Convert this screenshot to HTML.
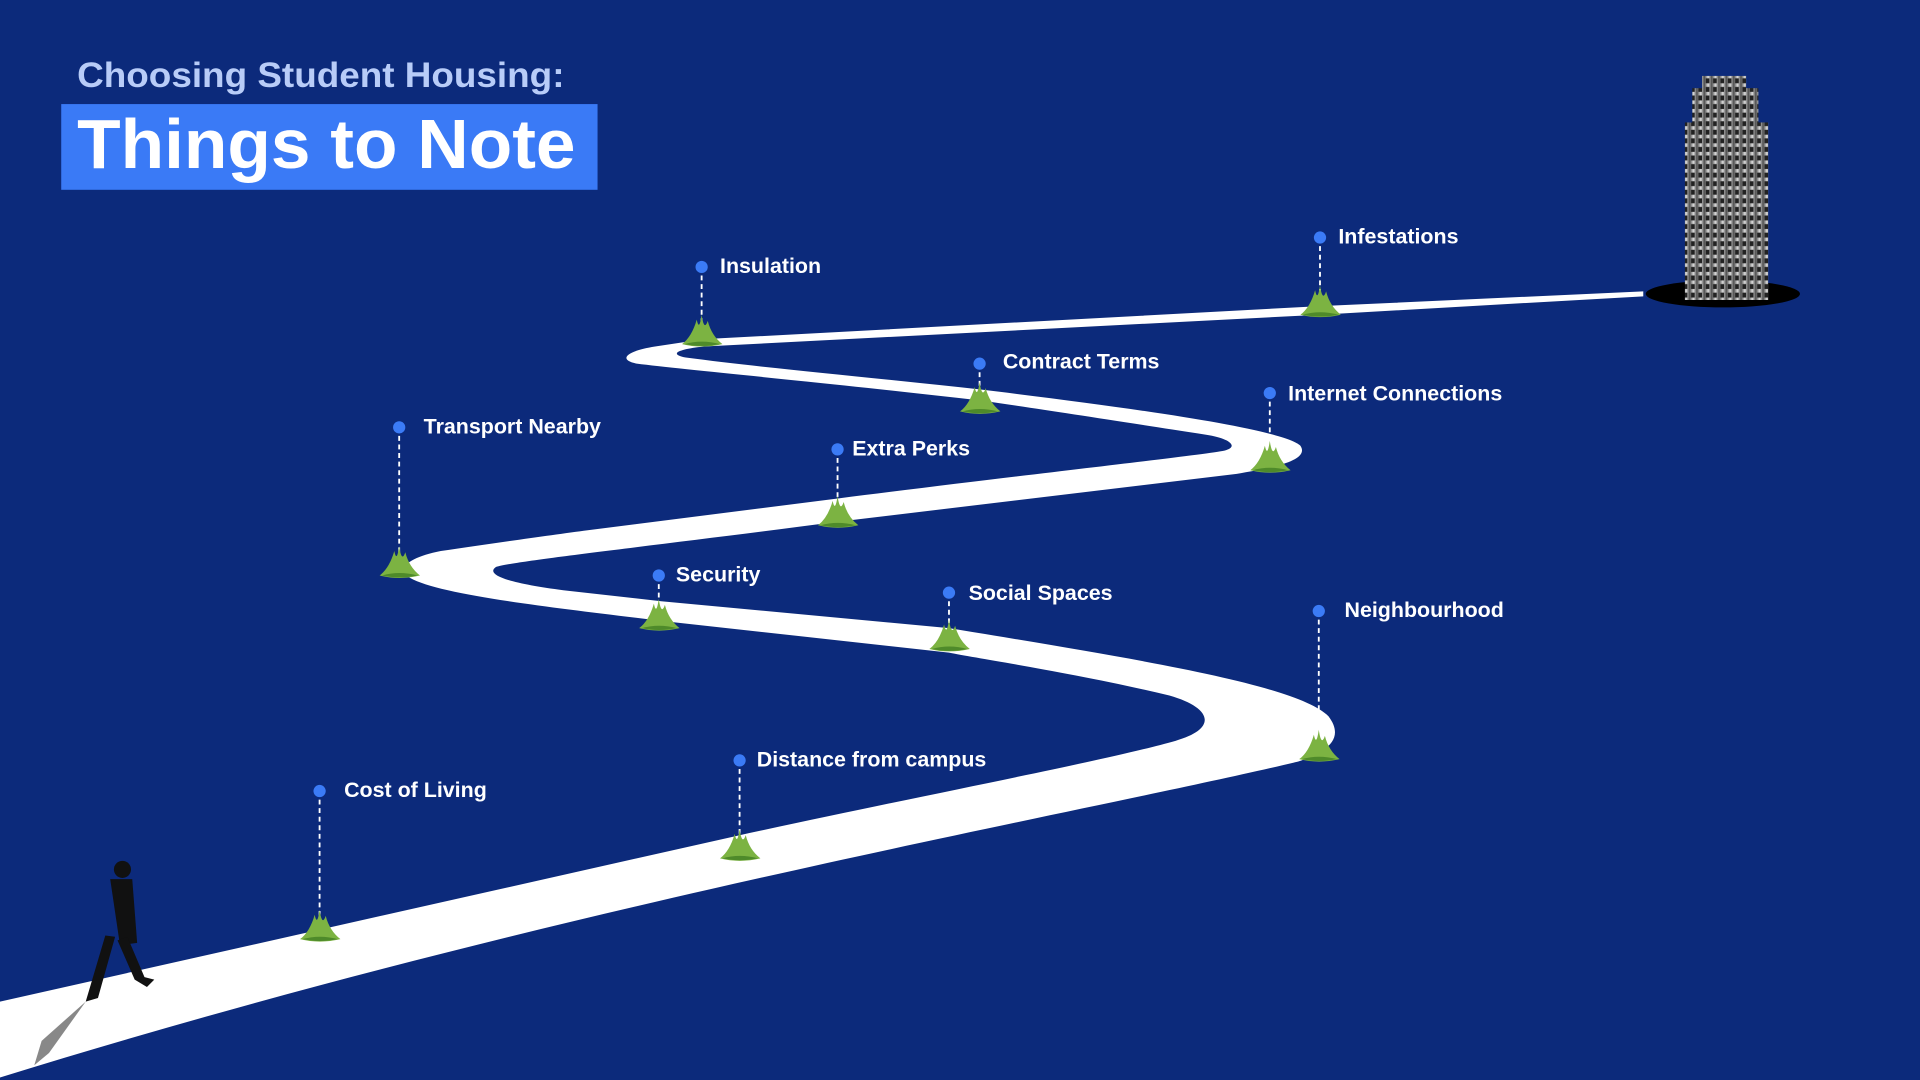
<!DOCTYPE html>
<html><head><meta charset="utf-8"><style>
html,body{margin:0;padding:0;background:#0c2a7b;}
svg{display:block;}
text{font-family:"Liberation Sans",sans-serif;font-weight:bold;}
</style></head><body>
<svg width="1920" height="1080" viewBox="0 0 1568 882" xmlns="http://www.w3.org/2000/svg">
<defs>
<g id="grass"><path d="M-16,4 Q-8,-2 -4,-16 Q-2,-6 0,-20 Q2,-6 5,-15 Q8,-3 17,4 Q0,8 -16,4Z" fill="#7cb342"/><path d="M-14,4 Q0,0 15,4 Q0,7 -14,4Z" fill="#4e8a2a"/></g>
<linearGradient id="bld" x1="0" x2="1"><stop offset="0" stop-color="#555"/><stop offset="0.5" stop-color="#ddd"/><stop offset="1" stop-color="#444"/></linearGradient>
<pattern id="win" width="6" height="7" patternUnits="userSpaceOnUse"><rect width="6" height="7" fill="url(#bld)"/><rect x="1" y="1" width="3" height="4" fill="#222"/></pattern>
</defs>
<rect width="1568" height="882" fill="#0c2a7b"/>
<!-- road -->
<path fill="#ffffff" d="M0,818 L600,683 C760,648 900,622 960,605 C995,595 990,578 955,568 C880,550 800,538 775,533 L540,507 C450,496 360,486 335,472 C322,464 335,455 360,450 C400,444 450,437 480,433 L685,407 C850,386 980,372 1000,368 C1012,365 1005,358 985,355 C900,342 850,334 800,327 C680,313 560,302 520,297 C505,294 510,287 535,283 L575,277 L1078,250 L1342,238 L1342,242 L1078,257 L575,283 C555,285 545,289 560,292 C620,300 700,307 800,318 C950,336 1050,352 1062,364 C1070,376 1040,382 1010,387 L685,426 C540,445 420,458 405,463 C395,470 420,477 460,482 L540,491 L775,513 C940,540 1060,560 1085,585 C1100,605 1080,615 1060,622 C880,665 450,740 0,880 Z"/>
<!-- building -->
<ellipse cx="1407" cy="240" rx="63" ry="11" fill="#000"/>
<rect x="1376" y="100" width="68" height="145" fill="url(#win)"/>
<rect x="1382" y="72" width="54" height="30" fill="url(#win)"/>
<rect x="1390" y="62" width="36" height="12" fill="url(#win)"/>
<!-- person -->
<g fill="#111">
<circle cx="100" cy="710" r="7"/>
<path d="M90,718 L108,718 L112,770 L98,772 Z"/>
<path d="M94,765 L80,815 L70,818 L86,764Z"/>
<path d="M104,765 L118,798 L126,800 L120,806 L110,800 L96,768Z"/>
<path d="M70,818 L40,860 L28,870 L34,850Z" opacity="0.5"/>
</g>
<!-- markers -->
<g stroke="#fff" stroke-width="1.5" stroke-dasharray="4,3">
<line x1="261" y1="646" x2="261" y2="756"/>
<line x1="604" y1="621" x2="604" y2="690"/>
<line x1="1077" y1="499" x2="1077" y2="608"/>
<line x1="775" y1="484" x2="775" y2="518"/>
<line x1="538" y1="470" x2="538" y2="502"/>
<line x1="326" y1="349" x2="326" y2="458"/>
<line x1="684" y1="367" x2="684" y2="416"/>
<line x1="1037" y1="321" x2="1037" y2="372"/>
<line x1="800" y1="297" x2="800" y2="326"/>
<line x1="573" y1="218" x2="573" y2="270"/>
<line x1="1078" y1="194" x2="1078" y2="246"/>
</g>
<g fill="#3b7bf6">
<circle cx="261" cy="646" r="5"/><circle cx="604" cy="621" r="5"/><circle cx="1077" cy="499" r="5"/>
<circle cx="775" cy="484" r="5"/><circle cx="538" cy="470" r="5"/><circle cx="326" cy="349" r="5"/>
<circle cx="684" cy="367" r="5"/><circle cx="1037" cy="321" r="5"/><circle cx="800" cy="297" r="5"/>
<circle cx="573" cy="218" r="5"/><circle cx="1078" cy="194" r="5"/>
</g>
<use href="#grass" x="261" y="763"/><use href="#grass" x="604" y="697"/><use href="#grass" x="1077" y="616"/>
<use href="#grass" x="775" y="526"/><use href="#grass" x="538" y="509"/><use href="#grass" x="326" y="466"/>
<use href="#grass" x="684" y="425"/><use href="#grass" x="1037" y="380"/><use href="#grass" x="800" y="332"/>
<use href="#grass" x="573" y="277"/><use href="#grass" x="1078" y="253"/>
<g fill="#fff" font-size="17.5">
<text x="281" y="651">Cost of Living</text>
<text x="618" y="626">Distance from campus</text>
<text x="1098" y="504">Neighbourhood</text>
<text x="791" y="490">Social Spaces</text>
<text x="552" y="475">Security</text>
<text x="346" y="354">Transport Nearby</text>
<text x="696" y="372">Extra Perks</text>
<text x="1052" y="327">Internet Connections</text>
<text x="819" y="301">Contract Terms</text>
<text x="588" y="223">Insulation</text>
<text x="1093" y="199">Infestations</text>
</g>
<!-- title -->
<text x="63" y="71" font-size="29" fill="#b8ccf8" textLength="398" lengthAdjust="spacingAndGlyphs">Choosing Student Housing:</text>
<rect x="50" y="85" width="438" height="70" fill="#3a7af6"/>
<text x="63" y="137" font-size="57" fill="#fff" textLength="407" lengthAdjust="spacingAndGlyphs">Things to Note</text>
</svg>
</body></html>
